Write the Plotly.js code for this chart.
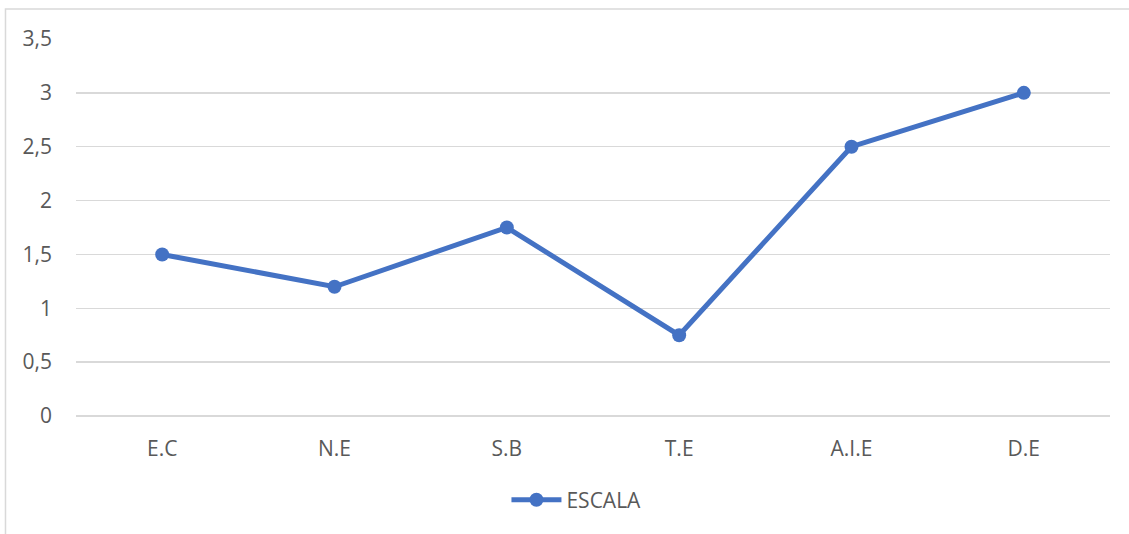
<!DOCTYPE html>
<html>
<head>
<meta charset="utf-8">
<script src="https://cdn.plot.ly/plotly-3.0.1.min.js"></script>
<style>html,body{margin:0;padding:0;background:#fff;}#chart{width:1129px;height:534px;}</style>
</head>
<body>
<div id="chart"></div>
<script>
const categories = ["E.C", "N.E", "S.B", "T.E", "A.I.E", "D.E"];
const escala = [1.5, 1.2, 1.75, 0.75, 2.5, 3];
const seriesName = "ESCALA";
const yTicks = [0, 0.5, 1, 1.5, 2, 2.5, 3, 3.5];

const trace = {
  x: categories, y: escala, name: seriesName, type: "scatter", mode: "lines+markers",
  line: {color: "#4472C4", width: 5},
  marker: {color: "#4472C4", size: 14},
  showlegend: true
};
const font = {family: "Open Sans, Liberation Sans, sans-serif", size: 21, color: "#595959"};
const layout = {
  width: 1129, height: 534,
  margin: {l: 76, r: 19, t: 39, b: 118},
  paper_bgcolor: "#fff", plot_bgcolor: "#fff",
  separators: ",.",
  font: font,
  xaxis: {type: "category", range: [-0.5, 5.5], showgrid: false, zeroline: false,
          showline: false, ticks: "", ticklabelstandoff: 18, tickfont: font, fixedrange: true},
  yaxis: {range: [0, 3.5], tickvals: yTicks, showgrid: true, gridcolor: "#d9d9d9", gridwidth: 1.3,
          zeroline: true, zerolinecolor: "#d9d9d9", zerolinewidth: 1.3, showline: false, ticks: "",
          ticklabelstandoff: 23, tickfont: font, fixedrange: true},
  showlegend: true,
  legend: {orientation: "h", x: 0.484, xanchor: "center", y: -0.223, yanchor: "middle",
           font: font, itemwidth: 50},
  shapes: [{type: "rect", xref: "paper", yref: "paper", x0: -0.0682, x1: 1.1, y0: -0.5, y1: 1.0796,
            line: {color: "#d9d9d9", width: 1.5}, fillcolor: "rgba(0,0,0,0)", layer: "below"}]
};
Plotly.newPlot("chart", [trace], layout, {displayModeBar: false, staticPlot: true});
</script>
</body>
</html>
